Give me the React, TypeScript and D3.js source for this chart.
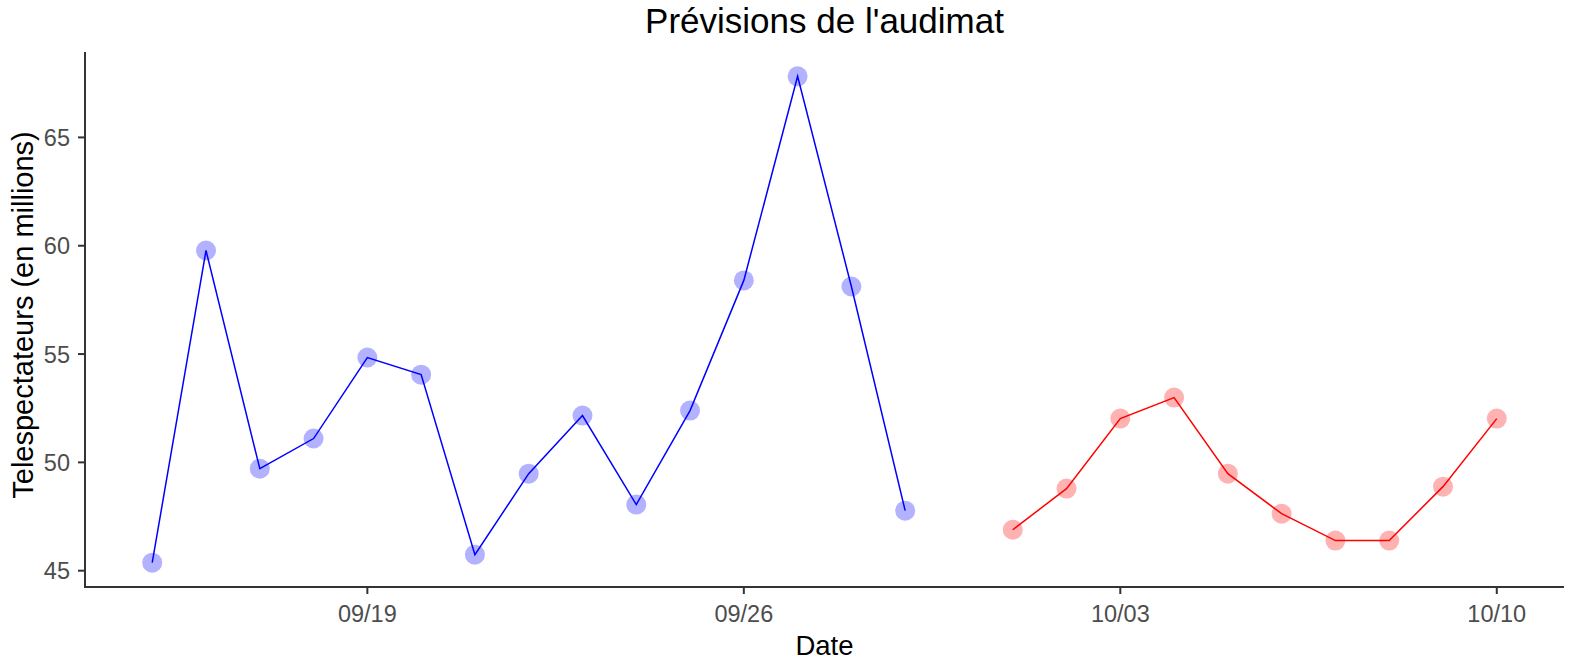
import React from "react";
import * as d3 from "d3";

const blueDates = ["2020-09-15","2020-09-16","2020-09-17","2020-09-18","2020-09-19","2020-09-20","2020-09-21","2020-09-22","2020-09-23","2020-09-24","2020-09-25","2020-09-26","2020-09-27","2020-09-28","2020-09-29"];
const blueValues = [45.37, 59.78, 49.71, 51.1, 54.84, 54.05, 45.74, 49.48, 52.16, 48.05, 52.39, 58.4, 67.82, 58.12, 47.77];
const redDates = ["2020-10-01","2020-10-02","2020-10-03","2020-10-04","2020-10-05","2020-10-06","2020-10-07","2020-10-08","2020-10-09","2020-10-10"];
const redValues = [46.89, 48.79, 52.02, 52.99, 49.48, 47.63, 46.39, 46.39, 48.88, 52.02];
const xTickDates = ["2020-09-19","2020-09-26","2020-10-03","2020-10-10"];
const yTicks = [45, 50, 55, 60, 65];

const W = 1569, H = 666;
const M = { left: 85, right: 1564, top: 52, bottom: 587 };
const font = "'Liberation Sans', Arial, sans-serif";

export default function App() {
  const parse = d3.utcParse("%Y-%m-%d");
  const blue = blueDates.map((d, i) => ({ d: parse(d)!, v: blueValues[i] }));
  const red = redDates.map((d, i) => ({ d: parse(d)!, v: redValues[i] }));
  const all = [...blue, ...red];
  const [x0, x1] = d3.extent(all, (p) => +p.d) as [number, number];
  const xPad = (x1 - x0) * 0.05;
  const [y0, y1] = d3.extent(all, (p) => p.v) as [number, number];
  const yPad = (y1 - y0) * 0.05;
  const x = d3.scaleUtc().domain([new Date(x0 - xPad), new Date(x1 + xPad)]).range([M.left, M.right]);
  const y = d3.scaleLinear().domain([y0 - yPad, y1 + yPad]).range([M.bottom, M.top]);
  const line = d3.line<{ d: Date; v: number }>().x((p) => x(p.d)).y((p) => y(p.v));
  const fmt = d3.utcFormat("%m/%d");

  return (
    <svg width={W} height={H} style={{ position: "absolute", left: 0, top: 0, background: "#fff" }} fontFamily={font}>
      <rect width={W} height={H} fill="#fff" />
      <text x={(M.left + M.right) / 2} y={33} textAnchor="middle" fontSize={35} fill="#000">Prévisions de l'audimat</text>
      {/* axes */}
      <line x1={M.left} x2={M.left} y1={M.top} y2={M.bottom + 1} stroke="#333" strokeWidth={2} />
      <line x1={M.left - 1} x2={M.right} y1={M.bottom} y2={M.bottom} stroke="#333" strokeWidth={2} />
      {yTicks.map((t) => (
        <g key={t}>
          <line x1={M.left - 7} x2={M.left} y1={y(t)} y2={y(t)} stroke="#333" strokeWidth={2} />
          <text x={70} y={y(t)} dy="0.36em" textAnchor="end" fontSize={23.5} fill="#4d4d4d">{t}</text>
        </g>
      ))}
      {xTickDates.map((s) => {
        const d = parse(s)!;
        return (
          <g key={s}>
            <line x1={x(d)} x2={x(d)} y1={M.bottom} y2={M.bottom + 7} stroke="#333" strokeWidth={2} />
            <text x={x(d)} y={621.5} textAnchor="middle" fontSize={23.5} fill="#4d4d4d">{fmt(d)}</text>
          </g>
        );
      })}
      <text x={(M.left + M.right) / 2} y={655} textAnchor="middle" fontSize={27.5} fill="#000">Date</text>
      <text transform={`translate(33,315) rotate(-90)`} textAnchor="middle" fontSize={29} fill="#000">Telespectateurs (en millions)</text>
      {/* series */}
      <path d={line(blue)!} fill="none" stroke="#0000ff" strokeWidth={1.5} />
      {blue.map((p, i) => (
        <circle key={"b" + i} cx={x(p.d)} cy={y(p.v)} r={10} fill="#0000ff" fillOpacity={0.3} />
      ))}
      <path d={line(red)!} fill="none" stroke="#ff0000" strokeWidth={1.5} />
      {red.map((p, i) => (
        <circle key={"r" + i} cx={x(p.d)} cy={y(p.v)} r={10} fill="#ff0000" fillOpacity={0.3} />
      ))}
    </svg>
  );
}
